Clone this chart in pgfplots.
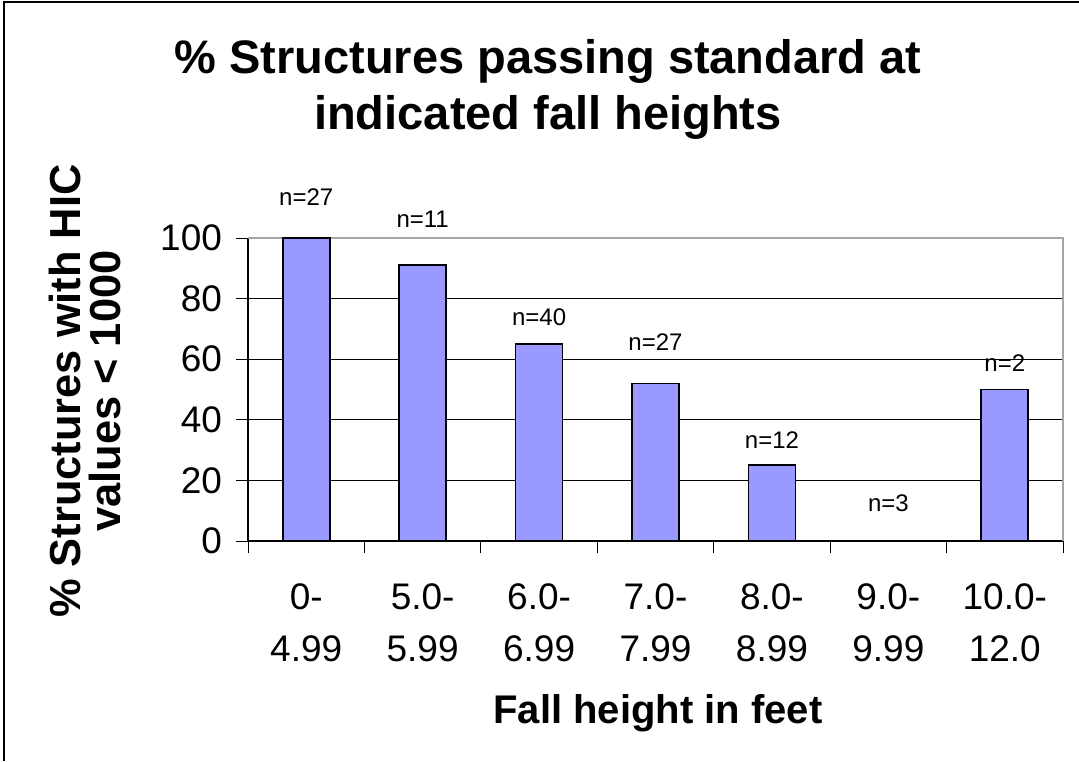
\documentclass[border=0pt]{standalone}
\usepackage{fontspec}
\setmainfont{Liberation Sans}
\usepackage{pgfplots}
\pgfplotsset{compat=1.18}
\definecolor{barblue}{HTML}{9999FF}
\begin{document}
\begin{tikzpicture}
\path[use as bounding box] (0,0) rectangle (539.5pt,380.5pt);
% chart area frame (only top and left edges show)
\draw[line width=1.2pt] (2pt,0) -- (2pt,379.5pt) -- (539.5pt,379.5pt);
\begin{axis}[
    at={(124pt,110pt)}, anchor=south west,
    scale only axis, width=407.5pt, height=151.5pt,
    clip=false,
    ybar, bar width=23.5pt,
    ymin=0, ymax=100, ytick={0,20,...,100},
    xmin=-0.5, xmax=6.5,
    xtick={-0.5,0.5,...,6.5}, xticklabels={},
    extra x ticks={0,...,6},
    extra x tick labels={{0-\\4.99},{5.0-\\5.99},{6.0-\\6.99},{7.0-\\7.99},{8.0-\\8.99},{9.0-\\9.99},{10.0-\\12.0}},
    extra x tick style={major tick length=0pt,
        xticklabel style={anchor=center, yshift=-41pt, align=center,
            font=\fontsize{18.5}{26}\selectfont}},
    axis x line*=bottom, axis y line*=left,
    axis line style={line width=1pt},
    tick align=outside, major tick length=6pt,
    tick style={black, line width=0.5pt},
    ymajorgrids, grid style={black, line width=0.4pt},
    yticklabel style={font=\fontsize{18.5}{22}\selectfont, xshift=-3.5pt},
    /pgf/number format/assume math mode=true,
    title={\% Structures passing standard at\\indicated fall heights},
    title style={at={(axis description cs:0.368,1.452)}, anchor=center, align=center,
        font=\fontsize{23.5}{28}\selectfont\bfseries},
    xlabel={Fall height in feet},
    xlabel style={at={(axis description cs:0.503,-0.568)}, anchor=center,
        font=\fontsize{20}{24}\selectfont\bfseries},
    ylabel={\% Structures with HIC\\values < 1000},
    ylabel style={at={(axis description cs:-0.2,0.495)}, anchor=center, align=center,
        font=\fontsize{21.7}{20}\selectfont\bfseries},
]
\draw[gray!70, line width=1pt] (rel axis cs:0,1) -- (rel axis cs:1,1) -- (rel axis cs:1,0);
\addplot[fill=barblue, draw=black, line width=0.9pt]
    coordinates {(0,100) (1,91) (2,65) (3,52) (4,25) (5,0) (6,50)};
\begin{scope}[every node/.style={font=\fontsize{12}{14}\selectfont}]
\node at (axis cs:0,113.5) {n=27};
\node at (axis cs:1,106.2) {n=11};
\node at (axis cs:2,73.9) {n=40};
\node at (axis cs:3,65.7) {n=27};
\node at (axis cs:4,33.3) {n=12};
\node at (axis cs:5,12.4) {n=3};
\node at (axis cs:6,58.7) {n=2};
\end{scope}
\end{axis}
\end{tikzpicture}
\end{document}
